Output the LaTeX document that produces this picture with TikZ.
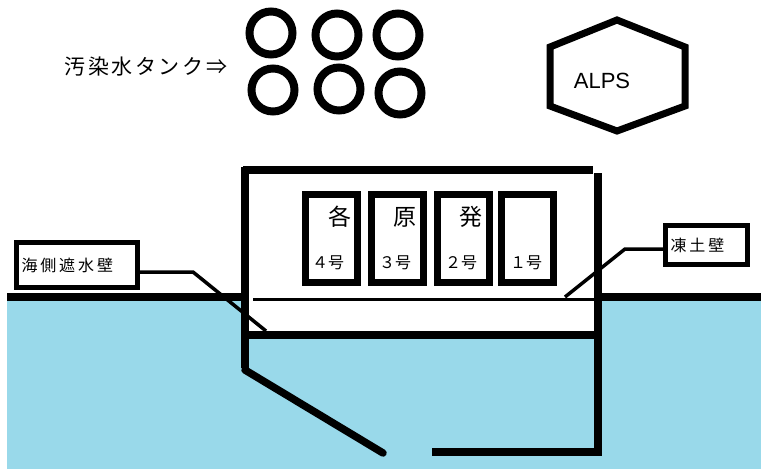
\documentclass[tikz,border=0pt]{standalone}
\usepackage{fontspec}
\setmainfont{Liberation Sans}
\newfontfamily\jp{Noto Sans CJK JP}
\newfontfamily\jpA[LetterSpace=12]{Noto Sans CJK JP}
\newfontfamily\jpB[LetterSpace=18]{Noto Sans CJK JP}
\definecolor{sea}{HTML}{99D9EA}
\begin{document}
\begin{tikzpicture}[x=1pt,y=-1pt,
  wall/.style={line width=7.5},
  tank/.style={circle, draw, line width=8, minimum size=43, inner sep=0},
  unit/.style={draw, line width=7, minimum width=52, minimum height=88, inner sep=0},
  labelbox/.style={draw, line width=5, align=left, inner xsep=5, inner ysep=0},
  conn/.style={line width=3.5}]
\useasboundingbox (0,0) rectangle (761,469);
\fill[white] (0,0) rectangle (761,469);
% sea
\fill[sea] (7,300) rectangle (761,469);
\fill[white] (245,299) rectangle (598,335);
% ground surface
\draw[line width=8] (7,297) -- (245,297);
\draw[line width=8] (598,297) -- (761,297);
\draw[line width=3] (253,299) -- (597,299);
% building and walls
\draw[wall] (243,170) -- (593,170);
\draw[wall] (245,166.5) -- (245,368);
\draw[wall] (598,173) -- (598,456);
\draw[wall] (245,335) -- (598,335);
\draw[wall] (432,452) -- (598,452);
\draw[wall, line cap=round] (245,370) -- (383,453);
% tanks
\node[tank] (t1) at (271,33) {};
\node[tank] (t2) at (337,35) {};
\node[tank] (t3) at (398,35) {};
\node[tank] (t4) at (273,90) {};
\node[tank] (t5) at (339,89) {};
\node[tank] (t6) at (400,93) {};
\node (tanklabel) at (146,67) {\jpA\fontsize{21}{21}\selectfont 汚染水タンク⇒};
% ALPS
\coordinate (h1) at (617,20);
\coordinate (h2) at (550,47);
\coordinate (h3) at (550,106);
\coordinate (h4) at (617,131);
\coordinate (h5) at (685,106);
\coordinate (h6) at (685,47);
\draw[line width=7, line join=miter] (h1) -- (h2) -- (h3) -- (h4) -- (h5) -- (h6) -- cycle;
\node (alps) at (602,81) {\fontsize{22}{22}\selectfont ALPS};
% reactor units
\node[unit] (u4) at (331.5,238.5) {};
\node[unit] (u3) at (397,238.5) {};
\node[unit] (u2) at (463,238.5) {};
\node[unit] (u1) at (527,238.5) {};
\node (c1) at (340,217) {\jp\fontsize{23}{23}\selectfont 各};
\node (c2) at (405,217) {\jp\fontsize{23}{23}\selectfont 原};
\node (c3) at (471,217) {\jp\fontsize{23}{23}\selectfont 発};
\node (n4) at (328,263) {\jp\fontsize{16}{16}\selectfont ４号};
\node (n3) at (395,263) {\jp\fontsize{16}{16}\selectfont ３号};
\node (n2) at (461,263) {\jp\fontsize{16}{16}\selectfont ２号};
\node (n1) at (526,263) {\jp\fontsize{16}{16}\selectfont １号};
% labels
\node[labelbox, text width=111pt, minimum height=45, anchor=west] (seawall) at (14,265) {\jpB\fontsize{16}{16}\selectfont 海側遮水壁};
\coordinate (sw1) at (193,272);
\coordinate (sw2) at (266,331);
\draw[conn] (seawall.east |- sw1) -- (sw1) -- (sw2);
\node[labelbox, text width=72pt, minimum height=39, anchor=west] (frozen) at (663,245) {\jpB\fontsize{16}{16}\selectfont 凍土壁};
\coordinate (fw1) at (625,249);
\coordinate (fw2) at (565,297);
\draw[conn] (frozen.west |- fw1) -- (fw1) -- (fw2);
\end{tikzpicture}
\end{document}
